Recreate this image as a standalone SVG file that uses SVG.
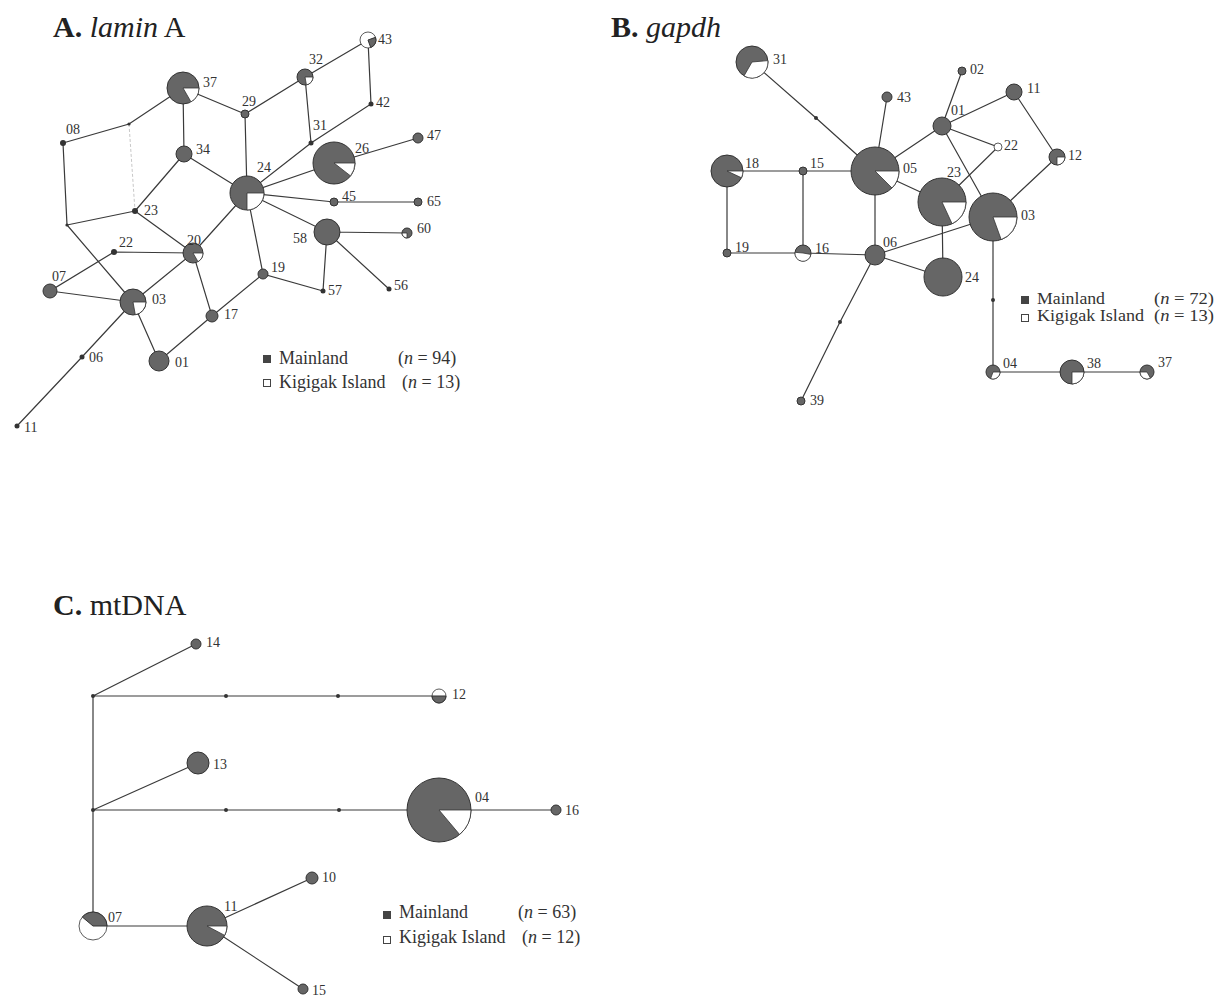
<svg xmlns="http://www.w3.org/2000/svg" width="1217" height="996" viewBox="0 0 1217 996">
<defs>
<style>
.e{stroke:#3a3a3a;stroke-width:1.2;fill:none}
.f{stroke:#c8c8c8;stroke-width:1;fill:none;stroke-dasharray:3 2}
.n{fill:#666;stroke:#333;stroke-width:1}
.w{fill:#fff;stroke:#333;stroke-width:0.8}
.d{fill:#333}
.l{font-family:"Liberation Serif",serif;font-size:14px;fill:#333}
.t{font-family:"Liberation Serif",serif;font-size:30px;fill:#222}
.g{font-family:"Liberation Serif",serif;font-size:18px;fill:#333}
.gb{font-family:"Liberation Serif",serif;font-size:16px;fill:#333}
</style>
</defs>
<rect width="1217" height="996" fill="#fff"/>

<!-- Titles -->
<text class="t" x="53" y="37"><tspan font-weight="bold">A.</tspan> <tspan font-style="italic">lamin</tspan> A</text>
<text class="t" x="611" y="37"><tspan font-weight="bold">B.</tspan> <tspan font-style="italic">gapdh</tspan></text>
<text class="t" x="53" y="615"><tspan font-weight="bold">C.</tspan> mtDNA</text>

<g id="connectors">
<!-- Panel A -->
<line class="f" x1="129" y1="124" x2="135" y2="211"/>
<path class="e" d="M63,143L129,124L183,88 M183,88L184,154 M183,88L245,114 M245,114L305,77L368,40L371,104L311,143L247,193 M305,77L311,143 M245,114L247,193 M184,154L247,193 M184,154L135,211 M247,193L334,163L418,138 M247,193L334,202L418,202 M247,193L327,232L407,233 M327,232L323,291 M327,232L389,289 M247,193L263,274L323,291 M263,274L212,316 M247,193L193,253 M135,211L193,253 M135,211L67,225 M63,143L67,225L133,302 M114,252L193,253 M114,252L50,291L133,302 M133,302L193,253 M133,302L159,361 M193,253L212,316L159,361 M133,302L82,357L17,426"/>
<!-- Panel B -->
<path class="e" d="M752,62L816,118L875,171 M887,97L875,171 M875,171L942,126 M942,126L962,71 M942,126L1014,92L1057,157 M942,126L998,147L942,202 M942,126L993,217 M1057,157L993,217 M875,171L942,202 M875,171L875,255 M727,171L803,171L875,171 M727,171L727,253L803,253L875,255 M803,171L803,253 M875,255L993,217 M875,255L943,277 M942,202L943,277 M993,217L993,300L993,372L1072,372L1147,372 M875,255L840,322L801,401"/>
<!-- Panel C -->
<path class="e" d="M93,696L196,644 M93,696L439,696 M93,696L93,926 M93,810L198,763 M93,810L556,810 M93,926L207,926 M207,926L312,878 M207,926L303,989"/>
</g>

<!-- Panel A nodes -->
<g id="A37"><circle class="n" cx="183" cy="88" r="16"/><path class="w" d="M183,88L199,88A16,16 0 0 1 191,101.9Z"/><text class="l" x="203" y="87">37</text></g>
<g id="A08"><circle class="d" cx="63" cy="143" r="3"/><text class="l" x="66" y="134">08</text></g>
<g id="Aj1"><circle class="d" cx="129" cy="124" r="1.6"/></g>
<g id="A34"><circle class="n" cx="184" cy="154" r="8"/><text class="l" x="196" y="154">34</text></g>
<g id="A29"><circle class="n" cx="245" cy="114" r="4"/><text class="l" x="242" y="106">29</text></g>
<g id="A23"><circle class="d" cx="135" cy="211" r="3"/><text class="l" x="144" y="215">23</text></g>
<g id="A24"><circle class="n" cx="247" cy="193" r="17"/><path class="w" d="M247,193L264,193A17,17 0 0 1 247,210Z"/><text class="l" x="257" y="172">24</text></g>
<g id="A32"><circle class="n" cx="305" cy="77" r="8"/><path class="w" d="M305,77L313,77A8,8 0 0 1 306.4,84.9Z"/><text class="l" x="309" y="64">32</text></g>
<g id="A43"><circle class="w" cx="368" cy="40" r="8"/><path class="n" d="M368,40L375.5,37.3A8,8 0 0 1 370.7,47.5Z"/><text class="l" x="378" y="44">43</text></g>
<g id="A42"><circle class="d" cx="371" cy="104" r="2.5"/><text class="l" x="376" y="107">42</text></g>
<g id="A31"><circle class="d" cx="311" cy="143" r="2.5"/><text class="l" x="313" y="130">31</text></g>
<g id="A26"><circle class="n" cx="334" cy="163" r="21"/><path class="w" d="M334,163L355,163A21,21 0 0 1 350.5,175.9Z"/><text class="l" x="355" y="153">26</text></g>
<g id="A47"><circle class="n" cx="418" cy="138" r="5"/><text class="l" x="427" y="140">47</text></g>
<g id="A45"><circle class="n" cx="334" cy="202" r="4"/><text class="l" x="342" y="201">45</text></g>
<g id="A65"><circle class="n" cx="418" cy="202" r="4"/><text class="l" x="427" y="206">65</text></g>
<g id="A58"><circle class="n" cx="327" cy="232" r="13"/><text class="l" x="293" y="243">58</text></g>
<g id="A60"><circle class="n" cx="407" cy="233" r="5"/><path class="w" d="M407,233L407,238A5,5 0 0 1 402,233Z"/><text class="l" x="417" y="233">60</text></g>
<g id="A19"><circle class="n" cx="263" cy="274" r="5"/><text class="l" x="271" y="272">19</text></g>
<g id="A57"><circle class="d" cx="323" cy="291" r="2.5"/><text class="l" x="328" y="295">57</text></g>
<g id="A56"><circle class="d" cx="389" cy="289" r="2.5"/><text class="l" x="394" y="290">56</text></g>
<g id="A20"><circle class="n" cx="193" cy="253" r="10"/><path class="w" d="M193,253L203,253A10,10 0 0 1 198,261.7Z"/><text class="l" x="187" y="245">20</text></g>
<g id="A22"><circle class="d" cx="114" cy="252" r="3"/><text class="l" x="119" y="247">22</text></g>
<g id="A07"><circle class="n" cx="50" cy="291" r="7"/><text class="l" x="52" y="281">07</text></g>
<g id="A03"><circle class="n" cx="133" cy="302" r="13"/><path class="w" d="M133,302L146,302A13,13 0 0 1 135.3,314.8Z"/><text class="l" x="152" y="304">03</text></g>
<g id="A17"><circle class="n" cx="212" cy="316" r="6"/><text class="l" x="224" y="319">17</text></g>
<g id="A01"><circle class="n" cx="159" cy="361" r="10"/><text class="l" x="175" y="367">01</text></g>
<g id="A06"><circle class="d" cx="82" cy="357" r="2.5"/><text class="l" x="89" y="362">06</text></g>
<g id="A11"><circle class="d" cx="17" cy="426" r="2.5"/><text class="l" x="24" y="432">11</text></g>
<g id="Aj2"><circle class="d" cx="67" cy="225" r="1.6"/></g>
<g id="legendA">
<rect x="263" y="355" width="8" height="8" fill="#444"/>
<text class="g" x="279" y="364">Mainland</text>
<text class="g" x="398" y="364">(<tspan font-style="italic">n</tspan> = 94)</text>
<rect x="263.5" y="379.5" width="7" height="7" fill="#fff" stroke="#444"/>
<text class="g" x="279" y="388">Kigigak Island</text>
<text class="g" x="402" y="388">(<tspan font-style="italic">n</tspan> = 13)</text>
</g>

<!-- Panel B nodes -->
<g id="B31"><circle class="n" cx="752" cy="62" r="16"/><path class="w" d="M752,62L767.9,60.6A16,16 0 0 1 744,75.9Z"/><text class="l" x="773" y="64">31</text></g>
<g id="Bj1"><circle class="d" cx="816" cy="118" r="2"/></g>
<g id="B43"><circle class="n" cx="887" cy="97" r="5"/><text class="l" x="897" y="102">43</text></g>
<g id="B05"><circle class="n" cx="875" cy="171" r="24"/><path class="w" d="M875,171L899,171A24,24 0 0 1 892,188Z"/><text class="l" x="903" y="173">05</text></g>
<g id="B18"><circle class="n" cx="727" cy="171" r="16"/><path class="w" d="M727,171L743,171A16,16 0 0 1 741.5,177.8Z"/><text class="l" x="745" y="168">18</text></g>
<g id="B15"><circle class="n" cx="803" cy="171" r="4"/><text class="l" x="810" y="168">15</text></g>
<g id="B19"><circle class="n" cx="727" cy="253" r="4"/><text class="l" x="735" y="252">19</text></g>
<g id="B16"><circle class="n" cx="803" cy="253" r="8"/><path class="w" d="M803,253L810.9,254.4A8,8 0 0 1 795,252.3Z"/><text class="l" x="815" y="253">16</text></g>
<g id="B06"><circle class="n" cx="875" cy="255" r="10"/><text class="l" x="883" y="247">06</text></g>
<g id="B01"><circle class="n" cx="942" cy="126" r="9"/><text class="l" x="951" y="115">01</text></g>
<g id="B02"><circle class="n" cx="962" cy="71" r="4"/><text class="l" x="970" y="74">02</text></g>
<g id="B11"><circle class="n" cx="1014" cy="92" r="8"/><text class="l" x="1027" y="93">11</text></g>
<g id="B22"><circle class="w" cx="998" cy="147" r="4"/><text class="l" x="1004" y="150">22</text></g>
<g id="B12"><circle class="n" cx="1057" cy="157" r="8"/><path class="w" d="M1057,157L1065,157A8,8 0 0 1 1057,165Z"/><text class="l" x="1068" y="160">12</text></g>
<g id="B23"><circle class="n" cx="942" cy="202" r="24"/><path class="w" d="M942,202L966,202A24,24 0 0 1 952.1,223.8Z"/><text class="l" x="947" y="177">23</text></g>
<g id="B03"><circle class="n" cx="993" cy="217" r="24"/><path class="w" d="M993,217L1017,217A24,24 0 0 1 1001.2,239.6Z"/><text class="l" x="1021" y="220">03</text></g>
<g id="B24"><circle class="n" cx="943" cy="277" r="19"/><text class="l" x="965" y="282">24</text></g>
<g id="Bj2"><circle class="d" cx="993" cy="300" r="2"/></g>
<g id="B04"><circle class="n" cx="993" cy="372" r="7"/><path class="w" d="M993,372L1000,372A7,7 0 0 1 990.6,378.6Z"/><text class="l" x="1003" y="368">04</text></g>
<g id="B38"><circle class="n" cx="1072" cy="372" r="12"/><path class="w" d="M1072,372L1084,372A12,12 0 0 1 1072,384Z"/><text class="l" x="1087" y="368">38</text></g>
<g id="B37"><circle class="n" cx="1147" cy="372" r="7"/><path class="w" d="M1147,372L1150.5,378.1A7,7 0 0 1 1140,372Z"/><text class="l" x="1158" y="367" font-size="12">37</text></g>
<g id="Bj3"><circle class="d" cx="840" cy="322" r="2"/></g>
<g id="B39"><circle class="n" cx="801" cy="401" r="4"/><text class="l" x="810" y="405">39</text></g>
<g id="legendB">
<rect x="1021" y="296" width="8" height="8" fill="#444"/>
<text class="gb" x="1037" y="304" textLength="68" lengthAdjust="spacingAndGlyphs">Mainland</text>
<text class="gb" x="1154" y="304" textLength="60" lengthAdjust="spacingAndGlyphs">(<tspan font-style="italic">n</tspan> = 72)</text>
<rect x="1021.5" y="314.5" width="7" height="7" fill="#fff" stroke="#444"/>
<text class="gb" x="1037" y="321" textLength="107" lengthAdjust="spacingAndGlyphs">Kigigak Island</text>
<text class="gb" x="1154" y="321" textLength="60" lengthAdjust="spacingAndGlyphs">(<tspan font-style="italic">n</tspan> = 13)</text>
</g>

<!-- Panel C nodes -->
<g id="Cj1"><circle class="d" cx="93" cy="696" r="2"/></g>
<g id="Cd1"><circle class="d" cx="226" cy="696" r="2"/></g>
<g id="Cd2"><circle class="d" cx="338" cy="696" r="2"/></g>
<g id="Cj2"><circle class="d" cx="93" cy="810" r="2"/></g>
<g id="Cd3"><circle class="d" cx="226" cy="810" r="2"/></g>
<g id="Cd4"><circle class="d" cx="339" cy="810" r="2"/></g>
<g id="C14"><circle class="n" cx="196" cy="644" r="5"/><text class="l" x="206" y="647">14</text></g>
<g id="C12"><circle class="w" cx="439" cy="696" r="7"/><path class="n" d="M432,696A7,7 0 0 0 446,696Z"/><text class="l" x="452" y="699">12</text></g>
<g id="C13"><circle class="n" cx="198" cy="763" r="11"/><text class="l" x="213" y="769" font-size="15">13</text></g>
<g id="C04"><circle class="n" cx="439" cy="810" r="32"/><path class="w" d="M439,810L471,810A32,32 0 0 1 459.6,834.5Z"/><text class="l" x="475" y="802">04</text></g>
<g id="C16"><circle class="n" cx="556" cy="810" r="5"/><text class="l" x="565" y="815">16</text></g>
<g id="C07"><circle class="w" cx="93" cy="926" r="14"/><path class="n" d="M93,926L82.3,917A14,14 0 0 1 107,926Z"/><text class="l" x="108" y="922">07</text></g>
<g id="C11"><circle class="n" cx="207" cy="926" r="20"/><path class="w" d="M207,926L227,926A20,20 0 0 1 224.7,935.4Z"/><text class="l" x="224" y="911">11</text></g>
<g id="C10"><circle class="n" cx="312" cy="878" r="6"/><text class="l" x="322" y="882">10</text></g>
<g id="C15"><circle class="n" cx="303" cy="989" r="5"/><text class="l" x="312" y="995">15</text></g>
<g id="legendC">
<rect x="383" y="911" width="8" height="8" fill="#444"/>
<text class="g" x="399" y="918">Mainland</text>
<text class="g" x="518" y="918">(<tspan font-style="italic">n</tspan> = 63)</text>
<rect x="383.5" y="936.5" width="7" height="7" fill="#fff" stroke="#444"/>
<text class="g" x="399" y="943">Kigigak Island</text>
<text class="g" x="522" y="943">(<tspan font-style="italic">n</tspan> = 12)</text>
</g>
</svg>
